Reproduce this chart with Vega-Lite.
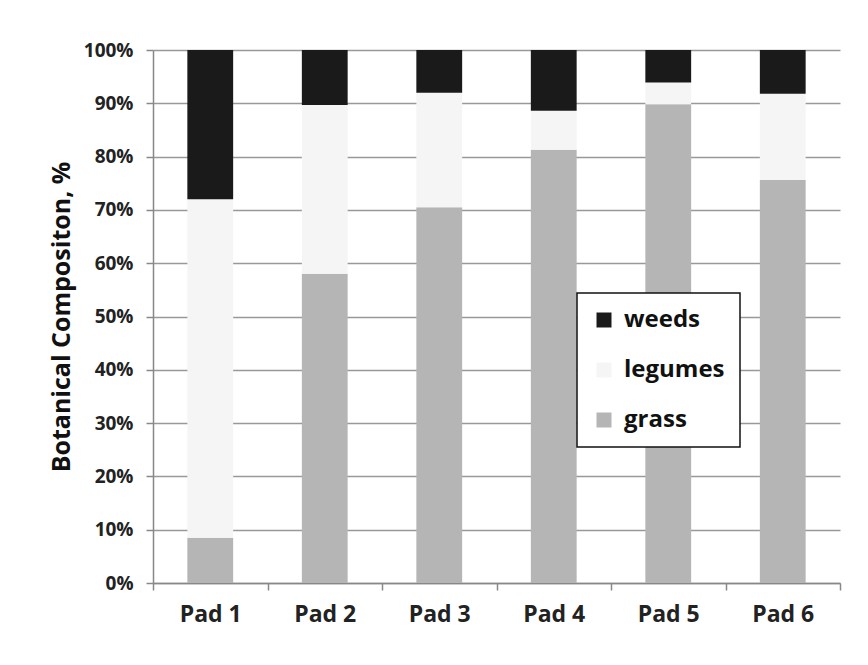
{
  "$schema": "https://vega.github.io/schema/vega-lite/v6.json",
  "width": 687,
  "height": 533,
  "autosize": "none",
  "padding": {"left": 153, "top": 50, "right": 28, "bottom": 82},
  "background": "white",
  "config": {"view": {"stroke": null}, "font": "Open Sans"},
  "data": {
    "values": [
      {"pad": "Pad 1", "component": "grass", "pct": 8.5},
      {"pad": "Pad 1", "component": "legumes", "pct": 63.5},
      {"pad": "Pad 1", "component": "weeds", "pct": 28},
      {"pad": "Pad 2", "component": "grass", "pct": 58},
      {"pad": "Pad 2", "component": "legumes", "pct": 31.7},
      {"pad": "Pad 2", "component": "weeds", "pct": 10.3},
      {"pad": "Pad 3", "component": "grass", "pct": 70.5},
      {"pad": "Pad 3", "component": "legumes", "pct": 21.5},
      {"pad": "Pad 3", "component": "weeds", "pct": 8},
      {"pad": "Pad 4", "component": "grass", "pct": 81.3},
      {"pad": "Pad 4", "component": "legumes", "pct": 7.3},
      {"pad": "Pad 4", "component": "weeds", "pct": 11.4},
      {"pad": "Pad 5", "component": "grass", "pct": 89.8},
      {"pad": "Pad 5", "component": "legumes", "pct": 4.1},
      {"pad": "Pad 5", "component": "weeds", "pct": 6.1},
      {"pad": "Pad 6", "component": "grass", "pct": 75.6},
      {"pad": "Pad 6", "component": "legumes", "pct": 16.2},
      {"pad": "Pad 6", "component": "weeds", "pct": 8.2}
    ]
  },
  "mark": {"type": "bar", "width": {"band": 0.4}},
  "encoding": {
    "x": {
      "field": "pad",
      "type": "nominal",
      "sort": null,
      "scale": {"paddingInner": 0, "paddingOuter": 0},
      "axis": {
        "title": null,
        "labelAngle": 0,
        "tickBand": "extent",
        "labelFont": "Open Sans",
        "labelFontSize": 23,
        "labelFontWeight": "bold",
        "labelColor": "#222222",
        "labelPadding": 13,
        "tickSize": 7,
        "tickColor": "#888888",
        "tickWidth": 1.5,
        "domainColor": "#888888",
        "domainWidth": 1.5,
        "grid": false
      }
    },
    "y": {
      "field": "pct",
      "type": "quantitative",
      "stack": "zero",
      "scale": {"domain": [0, 100], "nice": false},
      "axis": {
        "title": "Botanical Compositon, %",
        "titleFont": "Open Sans",
        "titleFontSize": 25,
        "titleFontWeight": "bold",
        "titleColor": "#111111",
        "titlePadding": 9,
        "values": [0, 10, 20, 30, 40, 50, 60, 70, 80, 90, 100],
        "labelExpr": "datum.value + '%'",
        "labelFont": "Open Sans",
        "labelFontSize": 19,
        "labelFontWeight": "bold",
        "labelColor": "#222222",
        "labelPadding": 13,
        "tickSize": 7,
        "tickColor": "#888888",
        "tickWidth": 1.5,
        "domainColor": "#888888",
        "domainWidth": 1.5,
        "grid": true,
        "gridColor": "#999999",
        "gridWidth": 1.5
      }
    },
    "color": {
      "field": "component",
      "type": "nominal",
      "scale": {"domain": ["weeds", "legumes", "grass"], "range": ["#1a1a1a", "#f5f5f5", "#b5b5b5"]},
      "legend": {
        "orient": "none",
        "legendX": 424,
        "legendY": 243,
        "title": null,
        "direction": "vertical",
        "strokeColor": "#111111",
        "fillColor": "white",
        "padding": 15,
        "rowPadding": 26,
        "symbolType": "square",
        "symbolSize": 225,
        "symbolStrokeWidth": 0,
        "labelFont": "Open Sans",
        "labelFontSize": 24,
        "labelFontWeight": "bold",
        "labelColor": "#111111",
        "labelOffset": 8,
        "encode": {"legend": {"update": {"strokeWidth": {"value": 1.5}}}}
      }
    },
    "order": {"field": "component", "sort": "ascending"}
  }
}
